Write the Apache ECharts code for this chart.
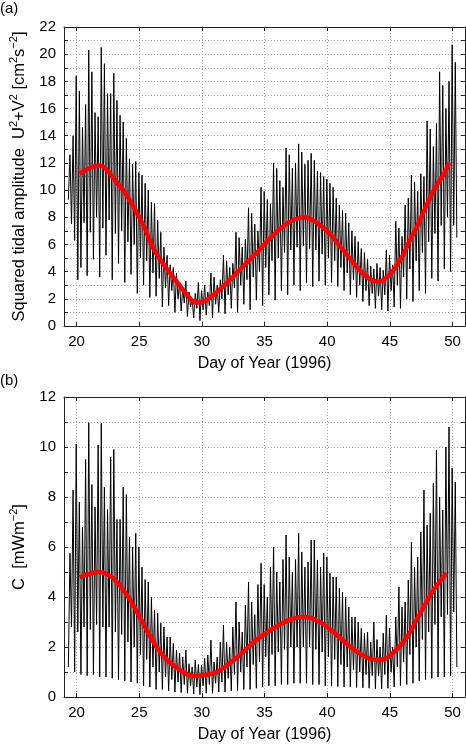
<!DOCTYPE html>
<html><head><meta charset="utf-8">
<script src="https://cdn.jsdelivr.net/npm/echarts@6/dist/echarts.min.js"></script>
<style>html,body{margin:0;padding:0;background:#fff}#c{width:466px;height:746px}</style>
</head><body><div id="c"></div>
<script>
// ---- data ----
const t0 = 19.35;          // first sample (day)
const dt = 0.125;          // half-cycle spacing (day)
const xTicks = [20, 25, 30, 35, 40, 45, 50];
const yTicksA = [0, 2, 4, 6, 8, 10, 12, 14, 16, 18, 20, 22];
const yTicksB = [0, 2, 4, 6, 8, 10, 12];

// panel (a): squared tidal amplitude, peaks and troughs
const peaksA = [
 12.6,14.0,18.4,17.3, 14.6,16.3,20.3,18.7, 15.7,15.4,20.5,19.3, 17.1,17.1,18.6,16.6,
 15.5,15.0,13.8,12.3, 11.9,12.1,11.3,11.1, 10.5,10.0,9.1,9.0, 7.8,6.9,5.8,5.2,
 4.5,4.3,3.9,3.2, 2.7,3.3,2.5,2.0, 2.4,3.2,2.6,3.0, 2.5,3.9,3.6,3.0,
 3.4,5.2,4.8,4.3, 4.6,6.9,6.5,5.8, 6.4,8.7,8.3,7.5, 7.0,10.2,9.9,9.3,
 9.0,12.0,11.6,10.7, 10.2,13.1,12.6,11.6, 12.0,13.4,12.8,11.9, 12.2,12.7,12.2,11.4,
 11.3,11.0,10.8,10.5, 10.2,9.4,8.9,8.5, 8.3,7.6,7.0,6.6, 6.2,5.7,5.4,4.9,
 4.4,4.2,4.6,4.3, 4.1,5.6,5.2,4.5, 7.7,7.2,6.6,8.9, 9.4,11.1,10.6,9.9,
 11.2,11.0,15.1,14.5, 13.2,14.9,18.7,17.7, 16.0,18.0,20.7,19.4
];
const troughsA = [
 9.3,7.5,6.3,3.4, 4.3,7.6,3.7,6.9, 4.9,8.0,3.6,7.2, 5.2,7.8,3.4,6.8,
 4.6,7.0,3.2,6.2, 3.8,6.0,2.4,5.0, 3.0,4.8,2.1,3.9, 2.2,3.5,1.4,2.8,
 1.5,2.6,1.0,2.0, 1.1,1.7,0.7,1.4, 0.6,1.3,0.4,1.2, 0.8,1.5,0.6,1.6,
 1.0,2.0,0.9,2.3, 1.3,2.8,1.0,3.0, 1.6,3.4,1.2,3.6, 1.9,4.0,1.5,4.3,
 2.3,4.8,1.9,5.0, 2.6,5.4,2.3,5.6, 3.0,5.8,2.6,5.9, 3.2,5.7,2.9,5.6,
 3.3,5.3,3.0,5.0, 3.2,4.8,2.9,4.3, 2.6,3.9,2.3,3.4, 2.1,3.0,1.8,2.6,
 1.5,2.4,1.3,2.2, 1.2,2.3,1.1,2.6, 1.4,3.0,1.3,3.6, 2.0,4.2,1.8,4.8,
 2.6,5.4,2.4,6.2, 3.5,6.8,3.3,7.4, 4.2,8.0,4.0,7.4, 6.5
];
const redDaysA = [20.26,20.8,21.4,21.9,22.5,23.1,23.8,24.4,25.0,25.45,26.2,27.3,28.3,29.0,29.5,30.0,30.8,31.7,33.0,34.35,35.5,36.45,37.3,38.15,39.0,40.1,41.0,41.7,42.4,43.0,43.5,44.04,44.5,45.08,45.6,46.13,46.6,47.18,47.7,48.2,48.7,49.27,49.74];
const redValsA = [11.2,11.5,11.75,11.8,11.4,10.7,9.9,9.0,8.0,7.2,5.6,4.1,2.9,2.1,1.72,1.75,2.2,2.9,4.1,5.35,6.5,7.3,7.8,8.0,7.7,6.9,5.9,5.1,4.3,3.75,3.4,3.26,3.4,3.87,4.5,5.35,6.3,7.3,8.4,9.4,10.3,11.1,12.0];

// panel (b): C [mW m^-2]
const peaksB = [
 5.75,8.28,10.12,7.8, 6.8,9.5,10.97,8.5, 7.6,10.08,10.95,8.4, 7.5,9.6,9.9,7.1,
 7.1,8.4,8.1,6.4, 6.0,6.55,6.0,5.2, 4.7,4.6,4.0,3.48, 3.35,2.95,2.8,2.4,
 2.4,2.15,1.88,1.75, 1.6,1.88,1.33,1.2, 1.48,1.3,1.28,1.55, 1.68,2.28,1.4,1.6,
 2.2,2.88,2.2,2.0, 2.8,3.8,3.0,2.6, 3.68,4.6,3.8,3.3, 4.5,5.35,4.5,4.0,
 5.2,6.0,5.0,4.6, 5.5,6.48,5.6,5.0, 5.5,6.55,5.8,5.2, 5.4,6.28,6.28,5.48,
 5.2,5.75,5.6,4.95, 4.8,4.8,4.35,4.2, 4.0,3.6,3.2,3.2, 3.0,2.75,2.55,2.6,
 2.2,3.0,2.3,2.0, 2.55,3.28,2.75,2.0, 3.2,4.4,3.6,3.8, 4.68,6.2,5.2,5.6,
 6.6,8.28,6.88,7.35, 8.55,9.88,8.0,7.48, 10.0,10.8,9.15,8.6
];
const troughsB = [
 1.2,2.8,1.0,2.6, 0.9,2.8,0.85,2.7, 0.9,2.9,0.8,2.8, 0.8,2.8,0.75,2.6,
 0.7,2.5,0.65,2.2, 0.6,2.0,0.55,1.7, 0.45,1.5,0.4,1.2, 0.3,1.0,0.3,0.8,
 0.25,0.7,0.2,0.6, 0.18,0.5,0.15,0.45, 0.12,0.4,0.1,0.45, 0.15,0.5,0.15,0.55,
 0.2,0.6,0.2,0.75, 0.25,0.9,0.25,1.0, 0.3,1.2,0.3,1.3, 0.35,1.4,0.4,1.6,
 0.45,1.7,0.45,1.8, 0.5,1.9,0.5,2.0, 0.55,2.0,0.55,2.0, 0.55,2.0,0.5,1.9,
 0.5,1.8,0.45,1.6, 0.45,1.5,0.42,1.3, 0.4,1.2,0.4,1.1, 0.38,1.0,0.37,0.9,
 0.35,0.85,0.33,0.85, 0.32,0.9,0.35,1.0, 0.4,1.2,0.45,1.4, 0.5,1.7,0.55,2.0,
 0.65,2.3,0.7,2.6, 0.75,2.9,0.8,3.2, 0.8,3.3,0.85,3.4, 1.2
];
const redDaysB = [20.26,21.0,21.78,22.4,23.09,24.13,25.18,25.97,27.0,28.06,29.1,29.5,29.8,30.5,31.2,31.7,32.5,33.3,34.35,35.4,36.44,37.2,38.0,38.6,39.06,39.58,40.63,41.4,42.2,43.0,44.0,44.5,45.08,45.7,46.4,47.44,48.5,49.53];
const redValsB = [4.79,4.92,5.0,4.92,4.68,4.0,3.08,2.35,1.6,1.15,0.86,0.84,0.85,0.9,1.0,1.15,1.45,1.8,2.28,2.65,2.95,3.12,3.2,3.18,3.08,2.95,2.55,2.2,1.88,1.62,1.48,1.5,1.68,1.98,2.41,3.35,4.28,4.95];

// ---- build series data ----
function zigzag(troughs, peaks) {
  const out = [];
  let t = t0;
  for (let k = 0; k < troughs.length; k++) {
    out.push([t, troughs[k]]); t += dt;
    if (k < peaks.length) { out.push([t, peaks[k]]); t += dt; }
  }
  return out;
}
function pairs(xs, ys) { return xs.map((x, i) => [x, ys[i]]); }

const FONT = '"Liberation Sans", Arial, Helvetica, sans-serif';
const AX = '#222';
const GRIDC = '#a8a8a8';

function xAxes(gi) {
  return [{
    gridIndex: gi, type: 'value', min: 19, max: 51, position: 'bottom',
    axisLine: { show: true, onZero: false, lineStyle: { color: AX, width: 1 } },
    axisTick: { show: true, inside: true, length: 4, customValues: xTicks, lineStyle: { color: AX } },
    axisLabel: { customValues: xTicks, fontSize: 15, color: '#000', fontFamily: FONT, margin: 8 },
    splitLine: { show: true, lineStyle: { color: GRIDC, type: [1, 2], width: 1 } },
    name: 'Day of Year (1996)', nameLocation: 'middle', nameGap: 30,
    nameTextStyle: { fontSize: 16, color: '#000', fontFamily: FONT }
  }, {
    gridIndex: gi, type: 'value', min: 19, max: 51, position: 'top',
    axisLine: { show: true, onZero: false, lineStyle: { color: AX, width: 1 } },
    axisTick: { show: true, inside: true, length: 4, customValues: xTicks, lineStyle: { color: AX } },
    axisLabel: { show: false }, splitLine: { show: false }
  }];
}
function yAxes(gi, max, ticks, name, rich, gap) {
  return [{
    gridIndex: gi, type: 'value', min: 0, max: max, interval: 1, position: 'left',
    axisLine: { show: true, onZero: false, lineStyle: { color: AX, width: 1 } },
    axisTick: { show: true, inside: true, length: 4, lineStyle: { color: AX } },
    axisLabel: { fontSize: 15, color: '#000', fontFamily: FONT, margin: 8,
      formatter: v => ticks.indexOf(v) >= 0 ? String(v) : '' },
    splitLine: { show: true, lineStyle: { color: GRIDC, type: [1, 2], width: 1 } },
    name: name, nameLocation: 'middle', nameGap: gap, nameRotate: 90,
    nameTextStyle: { fontSize: 16, color: '#000', fontFamily: FONT, rich: rich }
  }, {
    gridIndex: gi, type: 'value', min: 0, max: max, interval: 1, position: 'right',
    axisLine: { show: true, onZero: false, lineStyle: { color: AX, width: 1 } },
    axisTick: { show: true, inside: true, length: 4, lineStyle: { color: AX } },
    axisLabel: { show: false }, splitLine: { show: false }
  }];
}
const richT = {
  n: { fontSize: 16.5, fontFamily: FONT, color: '#000', lineHeight: 22 },
  s: { fontSize: 11, fontFamily: FONT, color: '#000', lineHeight: 12, verticalAlign: 'top' }
};

const chart = echarts.init(document.getElementById('c'), null, { renderer: 'canvas' });
chart.setOption({
  animation: false,
  backgroundColor: '#fff',
  grid: [
    { left: 58, right: 1, top: 27, height: 299 },
    { left: 58, right: 1, top: 397, height: 300 }
  ],
  graphic: [
    { type: 'text', left: 0, top: 1, style: { text: '(a)', fontSize: 15, fontFamily: FONT, fill: '#000' } },
    { type: 'text', left: 0, top: 373, style: { text: '(b)', fontSize: 15, fontFamily: FONT, fill: '#000' } }
  ],
  xAxis: [...xAxes(0), ...xAxes(1)],
  yAxis: [
    ...yAxes(0, 22, yTicksA,
      '{n|Squared tidal amplitude  U}{s|2}{n|+V}{s|2}{n| [cm}{s|2}{n|s}{s|−2}{n|]}', richT, 34),
    ...yAxes(1, 12, yTicksB, '{n|C  [mWm}{s|−2}{n|]}', richT, 34)
  ],
  series: [
    { type: 'line', xAxisIndex: 0, yAxisIndex: 0, data: zigzag(troughsA, peaksA), showSymbol: false,
      lineStyle: { color: '#000', width: 1.0 }, silent: true, z: 2 },
    { type: 'line', xAxisIndex: 0, yAxisIndex: 0, data: pairs(redDaysA, redValsA), showSymbol: false, smooth: 0.4,
      lineStyle: { color: '#ff0000', width: 4.5 }, silent: true, z: 3 },
    { type: 'line', xAxisIndex: 2, yAxisIndex: 2, data: zigzag(troughsB, peaksB), showSymbol: false,
      lineStyle: { color: '#000', width: 1.0 }, silent: true, z: 2 },
    { type: 'line', xAxisIndex: 2, yAxisIndex: 2, data: pairs(redDaysB, redValsB), showSymbol: false, smooth: 0.4,
      lineStyle: { color: '#ff0000', width: 4.5 }, silent: true, z: 3 }
  ]
});
</script></body></html>
